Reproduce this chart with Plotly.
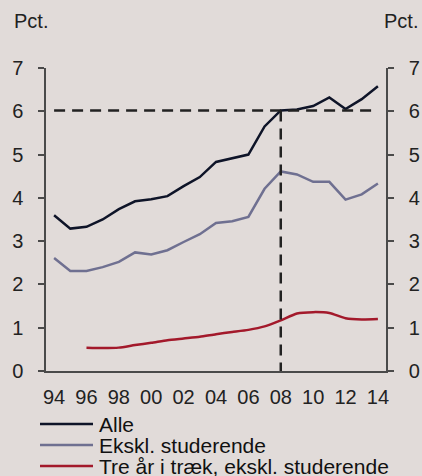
import plotly.graph_objects as go

years = list(range(1994, 2015))
alle = [3.60, 3.29, 3.33, 3.50, 3.74, 3.92, 3.97, 4.04, 4.27, 4.48, 4.83, 4.92, 5.00,
        5.65, 6.02, 6.04, 6.12, 6.32, 6.05, 6.28, 6.58]
ekskl = [2.61, 2.31, 2.31, 2.40, 2.52, 2.74, 2.69, 2.79, 2.98, 3.16, 3.42, 3.46, 3.56,
         4.21, 4.61, 4.54, 4.37, 4.37, 3.96, 4.08, 4.33]
tre_years = list(range(1996, 2015))
tre = [0.54, 0.53, 0.54, 0.60, 0.65, 0.71, 0.75, 0.79, 0.85, 0.90, 0.95, 1.03, 1.17,
       1.33, 1.36, 1.34, 1.22, 1.19, 1.20]

names = ["Alle", "Ekskl. studerende", "Tre år i træk, ekskl. studerende"]
colors = ["#0e1428", "#6f7091", "#a3192b"]
tick_years = list(range(1994, 2015, 2))
tick_text = [f"{y % 100:02d}" for y in tick_years]
ref_year = 2008
ref_level = 6.02

bg = "#e1dbd9"
axis_col = "#4a4a4a"
font = "Liberation Sans, Arial, sans-serif"

fig = go.Figure()
fig.add_trace(go.Scatter(x=years, y=alle, mode="lines", line=dict(color=colors[0], width=2.5),
                         name=names[0], showlegend=False))
fig.add_trace(go.Scatter(x=years, y=ekskl, mode="lines", line=dict(color=colors[1], width=2.5),
                         name=names[1], showlegend=False))
fig.add_trace(go.Scatter(x=tre_years, y=tre, mode="lines",
                         line=dict(color=colors[2], width=2.5, shape="spline", smoothing=0.6),
                         name=names[2], showlegend=False))
# invisible trace for right axis
fig.add_trace(go.Scatter(x=[years[0]], y=[0], yaxis="y2", mode="markers",
                         marker=dict(opacity=0), showlegend=False, hoverinfo="skip"))

# dashed reference lines
dash_style = dict(color="#222222", width=2.5, dash="11px,7px")
fig.add_shape(type="line", x0=years[0], x1=years[-1], y0=ref_level, y1=ref_level,
              xref="x", yref="y", line=dash_style)
fig.add_shape(type="line", x0=ref_year, x1=ref_year, y0=ref_level, y1=0,
              xref="x", yref="y", line=dash_style)

# manual legend
L, R, T, B = 46, 36, 68, 105
W, H = 422 - L - R, 476 - T - B
leg_rows = [424, 445, 466]
for nm, col, py in zip(names, colors, leg_rows):
    yp = (476 - B - py) / H
    fig.add_shape(type="line", xref="paper", yref="paper",
                  x0=(40 - L) / W, x1=(93 - L) / W, y0=yp, y1=yp,
                  line=dict(color=col, width=2.5))
    fig.add_annotation(xref="paper", yref="paper", x=(97 - L) / W, y=yp, text=nm,
                       showarrow=False, xanchor="left", yanchor="middle",
                       font=dict(size=21, color="#111111", family=font))

# Pct. labels
fig.add_annotation(xref="paper", yref="paper", x=(12 - L) / W, y=(476 - B - 21) / H,
                   text="Pct.", showarrow=False, xanchor="left", yanchor="middle",
                   font=dict(size=20, color="#222222", family=font))
fig.add_annotation(xref="paper", yref="paper", x=(420 - L) / W, y=(476 - B - 21) / H,
                   text="Pct.", showarrow=False, xanchor="right", yanchor="middle",
                   font=dict(size=20, color="#222222", family=font))

yax = dict(range=[0, 7], tickvals=list(range(0, 8)), showline=True, linecolor=axis_col,
           linewidth=1.5, ticks="outside", ticklen=6, tickcolor=axis_col, tickwidth=1.5,
           showgrid=False, zeroline=False, ticklabelstandoff=11, automargin=False,
           tickfont=dict(size=20, color="#222222", family=font), fixedrange=True)

fig.update_layout(
    template="none",
    width=422, height=476,
    margin=dict(l=L, r=R, t=T, b=B, pad=0),
    paper_bgcolor=bg, plot_bgcolor=bg,
    showlegend=False,
    xaxis=dict(range=[1993.5, 2014.5], tickvals=tick_years, ticktext=tick_text,
               showline=True, linecolor=axis_col, linewidth=1.5, ticks="",
               showgrid=False, zeroline=False, ticklabelstandoff=7, automargin=False,
               tickfont=dict(size=20, color="#222222", family=font)),
    yaxis=yax,
    yaxis2=dict(yax, overlaying="y", side="right"),
)

fig.write_html("out.html", config={"displayModeBar": False},
               post_script="document.body.style.margin='0';document.body.style.overflow='hidden';")
